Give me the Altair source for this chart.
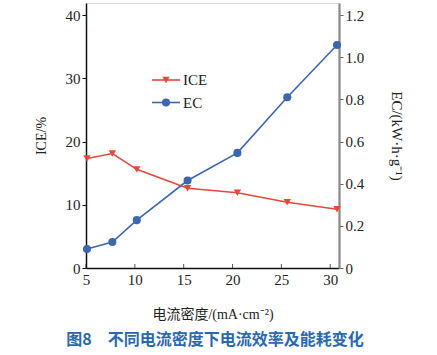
import altair as alt
import pandas as pd

# Data
current_density = [5.1, 7.7, 10.2, 15.4, 20.5, 25.6, 30.7]
ice_values = [17.3, 18.1, 15.6, 12.6, 11.9, 10.4, 9.3]
ec_values = [0.09, 0.123, 0.227, 0.415, 0.546, 0.81, 1.058]
x_ticks = [5, 10, 15, 20, 25, 30]
ice_ticks = [0, 10, 20, 30, 40]
ec_ticks = [0, 0.2, 0.4, 0.6, 0.8, 1.0, 1.2]

RED = "#e8473c"
BLUE = "#3d67ad"
SERIF = "Liberation Serif"
CJK = "Liberation Serif, Noto Sans CJK SC, serif"

df = pd.DataFrame({"x": current_density, "ICE": ice_values, "EC": ec_values})
tick_df = pd.DataFrame({"x": x_ticks})

W, H = 253, 265

x_enc = alt.X(
    "x:Q",
    scale=alt.Scale(domain=[5, 30.9], nice=False, zero=False),
    axis=alt.Axis(
        values=x_ticks, title="电流密度/(mA·cm⁻²)", grid=False, ticks=False,
        labelFont=SERIF, labelFontSize=15, labelColor="#222", labelPadding=4,
        labelFlush=False,
        titleFont=CJK, titleFontSize=14, titleFontWeight="normal", titleColor="#222",
        titlePadding=20, domainColor="#111", domainWidth=1.5,
    ),
)

ice = alt.Chart(df).mark_line(
    color=RED, strokeWidth=1.6,
    point=alt.OverlayMarkDef(shape="triangle-down", size=55, filled=True, color=RED),
).encode(
    x=x_enc,
    y=alt.Y(
        "ICE:Q",
        scale=alt.Scale(domain=[0, 41.9], nice=False),
        axis=alt.Axis(
            values=ice_ticks, title="ICE/%", grid=False, orient="left",
            labelFont=SERIF, labelFontSize=15, labelColor="#222",
            tickSize=4, tickColor="#111", domainColor="#111", domainWidth=1.5,
            titleFont=SERIF, titleFontSize=14, titleFontWeight="normal",
            titleColor="#222", titlePadding=17,
        ),
    ),
)

ec = alt.Chart(df).mark_line(
    color=BLUE, strokeWidth=1.6,
    point=alt.OverlayMarkDef(shape="circle", size=65, filled=True, color=BLUE, opacity=1),
).encode(
    x=alt.X("x:Q"),
    y=alt.Y(
        "EC:Q",
        scale=alt.Scale(domain=[0, 1.257], nice=False),
        axis=alt.Axis(
            values=ec_ticks, title="EC/(kW·h·g⁻¹)", grid=False, orient="right",
            labelFont=SERIF, labelFontSize=15, labelColor="#222",
            labelExpr="datum.value == 0 ? '0' : format(datum.value, '.1f')",
            tickSize=4, tickColor="#666", domainColor="#888", domainWidth=2.2,
            titleFont=SERIF, titleFontSize=15, titleFontWeight="normal",
            titleColor="#222", titlePadding=25,
        ),
    ),
)

ticks = alt.Chart(tick_df).mark_tick(
    color="#111", thickness=1, size=4, orient="vertical"
).encode(x="x:Q", y=alt.value(H - 2))

leg = pd.DataFrame({"label": ["ICE"]})
leg2 = pd.DataFrame({"label": ["EC"]})

def legend_item(data, color, shape, size, yy):
    line = alt.Chart(data).mark_rule(color=color, strokeWidth=1.6).encode(
        x=alt.value(66), x2=alt.value(94), y=alt.value(yy)
    )
    pt = alt.Chart(data).mark_point(
        shape=shape, size=size, filled=True, color=color, opacity=1
    ).encode(x=alt.value(80), y=alt.value(yy))
    txt = alt.Chart(data).mark_text(
        align="left", baseline="middle", font=SERIF, fontSize=15, color="#222"
    ).encode(x=alt.value(97), y=alt.value(yy), text="label:N")
    return line + pt + txt

legend_ice = legend_item(leg, RED, "triangle-down", 55, 77)
legend_ec = legend_item(leg2, BLUE, "circle", 65, 99.5)

caption = alt.Chart(pd.DataFrame({"t": ["图8\u3000不同电流密度下电流效率及能耗变化"]})).mark_text(
    align="center", baseline="middle", font="Noto Sans CJK SC", fontSize=16,
    fontWeight="bold", color="#2a68b0",
).encode(x=alt.value(129), y=alt.value(337), text="t:N")

chart = alt.layer(ice, ec, ticks, legend_ice, legend_ec, caption).resolve_scale(
    y="independent"
).properties(
    width=W, height=H,
    autosize=alt.AutoSizeParams(type="none"),
    padding={"left": 86, "top": 3, "right": 98, "bottom": 87},
).configure_view(stroke=None).configure(background="white")

chart.save("out.html", embed_options={"renderer": "svg", "actions": False})
